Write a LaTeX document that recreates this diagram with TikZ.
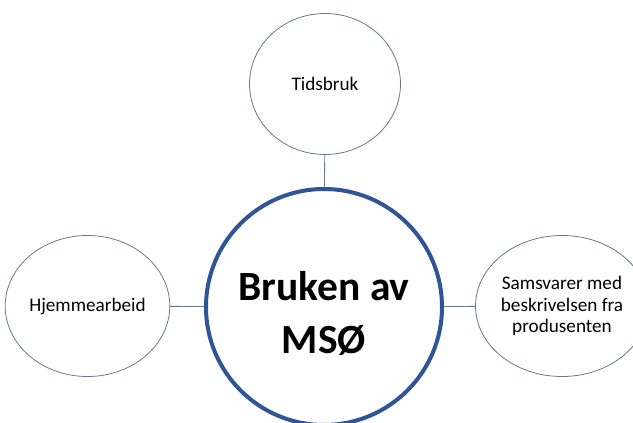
\documentclass[tikz,border=0pt]{standalone}
\usepackage{fontspec}
\setmainfont{Carlito}
\usetikzlibrary{shapes.geometric}
\definecolor{mainblue}{RGB}{47,85,151}
\definecolor{thinline}{RGB}{105,120,145}
\begin{document}
\begin{tikzpicture}[x=1pt,y=-1pt,
  hub/.style={circle,draw=mainblue,line width=4pt,fill=white,minimum size=236pt,inner sep=0pt},
  hubtext/.style={align=center,font=\fontsize{41.5}{53}\selectfont\bfseries},
  leaf/.style={ellipse,draw=thinline,line width=0.8pt,fill=white,minimum width=151pt,minimum height=141pt,inner sep=0pt,align=center,
    font=\fontsize{19.2}{21.8}\selectfont},
  link/.style={draw=thinline,line width=0.8pt}]
\useasboundingbox (0,0) rectangle (633,423);
\node[hub,label={[hubtext,yshift=-6pt]center:Bruken av\\MSØ}] (c) at (324,307) {};
\node[leaf] (t) at (325,84) {Tidsbruk};
\node[leaf] (l) at (87.5,306) {Hjemmearbeid};
\node[leaf] (r) at (562,306) {Samsvarer med\\beskrivelsen fra\\produsenten};
\draw[link] (t) -- (c);
\draw[link] (l) -- (c);
\draw[link] (r) -- (c);
\end{tikzpicture}
\end{document}
